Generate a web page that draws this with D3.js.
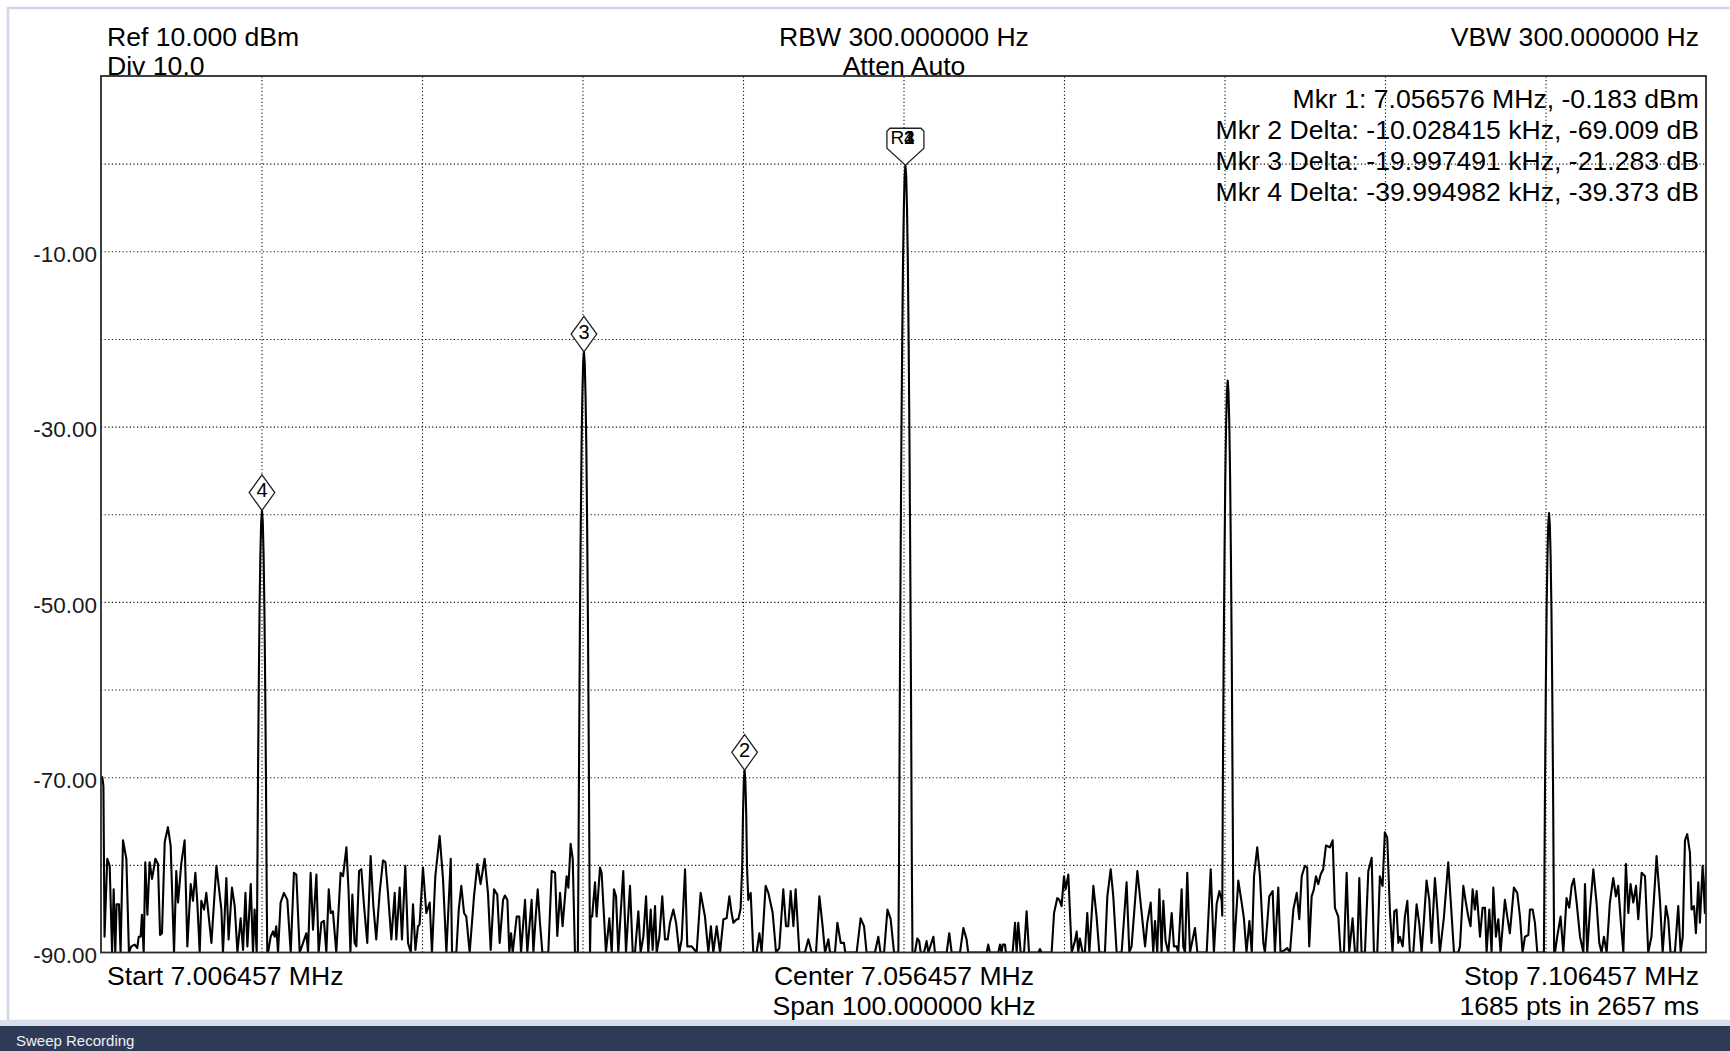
<!DOCTYPE html>
<html>
<head>
<meta charset="utf-8">
<script src="https://cdn.jsdelivr.net/npm/d3@7"></script>
<style>
  body { margin: 0; background: #fff; }
  svg text { font-family: "Liberation Sans", Arial, sans-serif; fill: #000; }
</style>
</head>
<body>
<div id="chart"></div>
<script>
// Spectrum analyser sweep, 7.006457 - 7.106457 MHz

// frequency is kHz above the start frequency, level is dBm
var trace = [
  [0,-70.3],[0.08,-70],[0.15,-71],[0.22,-88.2],[0.39,-79.3],[0.54,-80.1],[0.69,-90],[0.79,-82.8],[0.89,-90],[0.97,-84.5],
  [1.12,-84.5],[1.22,-90],[1.37,-77.2],[1.58,-79.3],[1.74,-90],[1.89,-89.3],[2.1,-89.1],[2.26,-89.5],[2.35,-88.2],[2.47,-88.2],
  [2.55,-85.7],[2.66,-90],[2.76,-79.7],[2.89,-85.7],[3.03,-79.7],[3.18,-81.6],[3.39,-79.3],[3.55,-79.9],[3.68,-88],[3.8,-87.8],
  [3.97,-77.4],[4.17,-75.7],[4.34,-77.8],[4.55,-90],[4.69,-80.7],[4.8,-84.3],[5.0,-79.9],[5.21,-77.2],[5.38,-89.3],[5.59,-82.2],
  [5.73,-84.1],[5.88,-80.9],[6.0,-84.3],[6.15,-90],[6.25,-84.1],[6.42,-85.1],[6.56,-83.2],[6.88,-88.9],[7.19,-80.1],[7.5,-85.1],
  [7.6,-90],[7.81,-81.5],[7.95,-88.5],[8.16,-82.6],[8.33,-84.7],[8.43,-87.8],[8.5,-90],[8.7,-86.1],[8.85,-89.7],[9.0,-83.2],
  [9.12,-89.3],[9.33,-82.2],[9.47,-90],[9.57,-85.1],
  // marker 4 carrier
  [9.7,-90],[9.73,-84.6],[9.78,-70.6],[9.83,-59.6],[9.88,-50.6],[9.93,-44.6],[9.98,-40.9],[10.03,-39.56],[10.08,-40.9],
  [10.13,-44.6],[10.18,-50.6],[10.23,-59.6],[10.28,-70.6],[10.33,-84.6],[10.36,-90],
  [10.41,-90],[10.57,-88.2],[10.72,-87.6],[10.82,-88.2],[10.92,-87],[11.03,-90],[11.19,-84.3],[11.4,-83.2],[11.61,-84],[11.82,-90],
  [12.02,-80.9],[12.17,-81.1],[12.38,-90],[12.59,-88.9],[12.79,-87.8],[12.9,-90],[13.06,-80.9],[13.21,-87.4],[13.42,-81.1],[13.56,-90],
  [13.73,-86.6],[13.89,-86.4],[14.04,-90],[14.19,-82.8],[14.31,-85.5],[14.45,-85.3],[14.66,-90],[14.93,-80.9],[15.08,-81.3],[15.29,-78],
  [15.43,-83.2],[15.54,-90],[15.66,-83.4],[15.8,-88.9],[15.91,-89.3],[16.08,-80.7],[16.22,-80.5],[16.39,-84.7],[16.59,-88.9],[16.8,-79],
  [16.97,-84.7],[17.15,-88.5],[17.36,-83.2],[17.57,-79.5],[17.72,-79.7],[17.88,-83.2],[18.09,-88.5],[18.3,-83.2],[18.4,-88.5],[18.61,-82.6],
  [18.75,-88.5],[18.96,-80.1],[19.13,-88.9],[19.3,-90],[19.44,-84.5],[19.59,-89.7],[19.75,-87],[19.85,-86.8],[20.06,-80.3],[20.27,-85.5],
  [20.48,-84.3],[20.62,-90],[20.83,-81.3],[21.1,-76.7],[21.31,-81.6],[21.52,-90],[21.79,-79.3],[21.87,-90],[22.14,-90],[22.29,-85.1],
  [22.45,-82.4],[22.62,-85.5],[22.76,-85.9],[22.97,-90],[23.24,-83.6],[23.45,-79.9],[23.65,-82.2],[23.9,-79.3],[24.11,-83.2],[24.28,-89.7],
  [24.49,-82.8],[24.69,-83.4],[24.84,-88.9],[25.05,-84],[25.17,-83.5],[25.32,-84],[25.44,-90],[25.55,-87.8],[25.65,-90],[25.9,-85.9],
  [26.06,-85.9],[26.17,-90],[26.42,-84],[26.56,-90],[26.83,-84],[26.94,-90],[27.1,-85.5],[27.21,-82.8],[27.35,-86.6],[27.5,-90],
  [27.87,-90],[28.08,-80.7],[28.29,-80.9],[28.43,-88.1],[28.6,-83.2],[28.76,-87],[29.01,-81.3],[29.12,-82.6],[29.26,-77.6],[29.39,-79.3],
  [29.53,-90],
  // marker 3 carrier
  [29.71,-90],[29.74,-82.5],[29.79,-66.5],[29.84,-52.5],[29.89,-41.5],[29.94,-32.5],[29.99,-26.5],[30.04,-22.8],[30.09,-21.47],
  [30.14,-22.8],[30.19,-26.5],[30.24,-32.5],[30.29,-41.5],[30.34,-52.5],[30.39,-66.5],[30.44,-82.5],[30.47,-90],
  [30.51,-85.9],[30.6,-85.9],[30.78,-82],[30.88,-85.9],[31.09,-80.3],[31.19,-80.9],[31.34,-85.9],[31.46,-90],[31.67,-86.1],[31.82,-90],
  [31.96,-82.8],[32.09,-83.6],[32.23,-90],[32.54,-80.7],[32.71,-90],[32.96,-82.4],[33.13,-90],[33.27,-90],[33.48,-85.3],[33.62,-90],
  [33.79,-88.2],[33.96,-83.6],[34.1,-90],[34.25,-85.1],[34.37,-89.7],[34.52,-84.7],[34.62,-90],[34.79,-88.2],[34.97,-83.6],[35.14,-88.5],
  [35.31,-88.5],[35.45,-86.6],[35.66,-85.1],[35.83,-86.6],[36.03,-90],[36.18,-88.5],[36.39,-80.5],[36.53,-89.3],[36.8,-89.3],[37.11,-90],
  [37.36,-83.2],[37.63,-85.9],[37.84,-90],[38.0,-87],[38.15,-90],[38.36,-87],[38.57,-90],[38.78,-86.2],[38.98,-86.1],[39.15,-83.6],
  [39.29,-85.5],[39.4,-86.6],[39.61,-86.2],[39.71,-86.2],
  // marker 2 carrier
  [39.85,-85],[39.95,-80.2],[40.0,-74.2],[40.05,-70.5],[40.1,-69.19],[40.15,-70.5],[40.2,-74.2],[40.25,-80.2],[40.33,-84],
  [40.48,-83.2],[40.64,-90],[40.85,-90],[41.02,-87.8],[41.16,-90],[41.41,-82.4],[41.58,-83.2],[41.85,-85.5],[42.06,-90],[42.26,-89.5],
  [42.51,-82.8],[42.68,-87],[42.82,-87],[42.97,-83],[43.14,-87],[43.28,-82.8],[43.51,-90],[43.86,-90],[44.07,-88.5],[44.28,-90],
  [44.55,-90],[44.76,-83.6],[44.96,-87],[45.11,-90],[45.32,-88.5],[45.42,-90],[45.73,-90],[45.88,-86.6],[46.09,-88.9],[46.29,-88.9],
  [46.37,-90],[47.08,-90],[47.33,-86.1],[47.54,-87],[47.7,-90],[48.22,-90],[48.43,-88.2],[48.57,-90],[48.79,-90],[49.0,-85.1],
  [49.2,-86.2],[49.41,-90],
  // marker 1 / reference carrier
  [49.68,-90],[49.72,-80.2],[49.77,-61.2],[49.82,-45.2],[49.87,-31.2],[49.92,-20.2],[49.97,-11.2],[50.02,-5.2],[50.07,-1.5],
  [50.12,-0.18],[50.17,-1.5],[50.22,-5.2],[50.27,-11.2],[50.32,-20.2],[50.37,-31.2],[50.42,-45.2],[50.47,-61.2],[50.52,-80.2],[50.56,-90],
  [50.71,-90],[50.86,-88.4],[50.98,-88.7],[51.07,-90],[51.28,-90],[51.44,-88.7],[51.55,-90],[51.86,-88.2],[51.96,-90],[52.69,-90],
  [52.85,-87.8],[53.0,-90],[53.52,-90],[53.73,-87.2],[53.93,-88.5],[54.03,-90],[55.18,-90],[55.28,-89.1],[55.38,-90],[55.91,-90],
  [56.01,-89.1],[56.11,-90],[56.18,-89.1],[56.32,-89.1],[56.38,-90],[56.8,-90],[56.95,-86.6],[57.05,-90],[57.15,-86.6],[57.3,-90],
  [57.51,-90],[57.67,-85.3],[57.82,-90],[58.4,-90],[58.5,-89.6],[58.6,-90],[59.23,-90],[59.38,-85.5],[59.58,-83.8],[59.71,-84],
  [59.85,-84.7],[60.0,-81.3],[60.1,-82.8],[60.27,-81.1],[60.48,-90],[60.68,-88.7],[60.79,-87.6],[60.89,-90],[60.99,-88.4],[61.16,-90],
  [61.3,-90],[61.45,-85.5],[61.58,-90],[61.83,-82.4],[62.03,-85.9],[62.2,-90],[62.55,-90],[62.7,-83.6],[62.91,-80.5],[63.07,-83.6],
  [63.28,-90],[63.59,-90],[63.9,-82],[64.07,-90],[64.21,-89.3],[64.57,-80.7],[64.84,-85.5],[65.05,-89.3],[65.19,-86.6],[65.4,-84.3],
  [65.56,-90],[65.67,-86.4],[65.81,-90],[65.94,-82.8],[66.08,-90],[66.19,-84.1],[66.33,-88.7],[66.5,-90],[66.71,-85.5],[66.85,-89.3],
  [67.02,-89.3],[67.12,-90],[67.33,-82.8],[67.43,-89.3],[67.54,-90],[67.68,-80.9],[67.85,-90],[68.16,-87.2],[68.31,-90],[68.89,-90],
  [69.14,-80.5],[69.34,-90],[69.51,-84.5],[69.68,-83],[69.82,-84],
  // +20 kHz product
  [69.86,-85.8],[69.9,-69.8],[69.95,-55.8],[70.0,-44.8],[70.05,-35.8],[70.1,-29.8],[70.15,-26.1],[70.2,-24.75],[70.25,-26.1],
  [70.3,-29.8],[70.35,-35.8],[70.4,-44.8],[70.45,-55.8],[70.5,-69.8],[70.55,-85.8],[70.58,-90],
  [70.86,-81.8],[71.07,-84.3],[71.21,-86.1],[71.37,-90],[71.55,-86.4],[71.7,-90],[71.84,-81.3],[72.04,-78],[72.21,-81.3],[72.42,-88.9],
  [72.52,-90],[72.79,-83.6],[73.0,-83],[73.14,-90],[73.35,-82.6],[73.49,-90],[73.77,-89.7],[73.91,-89.5],[74.08,-90],[74.29,-85.1],
  [74.5,-83.2],[74.66,-86.2],[74.81,-81.3],[75.01,-80.1],[75.15,-80.3],[75.28,-89.3],[75.43,-83.6],[75.57,-82.8],[75.7,-81.3],[75.84,-82.2],
  [75.99,-81.1],[76.15,-80.5],[76.32,-77.8],[76.57,-78],[76.74,-77.2],[76.88,-84.9],[77.09,-85.9],[77.23,-90],[77.44,-90],[77.61,-80.9],
  [77.77,-90],[77.98,-86.1],[78.13,-90],[78.27,-90],[78.4,-81.5],[78.54,-90],[78.75,-90],[78.96,-80.7],[79.17,-79.2],[79.31,-90],
  [79.52,-90],[79.68,-81.3],[79.85,-82.4],[79.99,-76.3],[80.14,-76.9],[80.31,-85.5],[80.47,-90],[80.58,-85.3],[80.72,-85.1],[80.83,-88.9],
  [80.93,-88.2],[81.1,-89.3],[81.24,-85.9],[81.39,-84.1],[81.55,-90],[81.76,-90],[81.97,-84.5],[82.14,-86.8],[82.28,-90],[82.43,-86.2],
  [82.59,-81.8],[82.76,-84],[82.9,-88.9],[83.11,-81.5],[83.26,-85.1],[83.42,-90],[83.67,-86],[83.94,-79.7],[84.09,-84],[84.3,-90],
  [84.57,-90],[84.67,-89.3],[84.88,-82.4],[85.04,-84.3],[85.19,-85.9],[85.33,-87],[85.46,-82.8],[85.6,-85.1],[85.71,-83],[85.92,-88.2],
  [86.08,-84.9],[86.23,-84.9],[86.33,-90],[86.5,-85.1],[86.64,-90],[86.75,-82.6],[86.91,-88.2],[87.06,-86.2],[87.2,-90],[87.47,-84],
  [87.62,-85.9],[87.78,-87.8],[88.03,-82.6],[88.24,-83.2],[88.41,-85.9],[88.57,-90],[88.72,-88.2],[88.93,-88],[89.03,-85.1],[89.2,-85.1],
  [89.34,-86.6],[89.49,-90],
  // +40 kHz product
  [89.9,-90],[89.92,-84.9],[89.97,-70.9],[90.02,-59.9],[90.07,-50.9],[90.12,-44.9],[90.17,-41.2],[90.22,-39.86],[90.27,-41.2],
  [90.32,-44.9],[90.37,-50.9],[90.42,-59.9],[90.47,-70.9],[90.52,-84.9],[90.54,-90],
  [90.59,-90],[90.73,-88.2],[90.94,-85.9],[91.11,-90],[91.31,-83.8],[91.48,-84.9],[91.63,-82.4],[91.77,-81.6],[91.94,-84.3],[92.15,-88.2],
  [92.36,-90],[92.46,-82.2],[92.6,-90],[92.77,-85.1],[92.98,-80.5],[93.18,-84.3],[93.35,-88.9],[93.49,-90],[93.64,-88.2],[93.81,-90],
  [94.01,-84.3],[94.22,-81.5],[94.39,-83.6],[94.53,-82.4],[94.68,-86.2],[94.85,-90],[95.01,-79.9],[95.16,-85.5],[95.3,-82.2],[95.47,-84.3],
  [95.64,-82.4],[95.78,-86.2],[95.99,-80.9],[96.2,-81.3],[96.4,-90],[96.6,-88.2],[96.76,-83.8],[96.92,-79],[97.13,-84],[97.3,-90],
  [97.5,-84.7],[97.65,-86.2],[97.79,-90],[98.06,-90],[98.27,-84.7],[98.42,-90],[98.55,-88.2],[98.69,-77.2],[98.83,-76.5],[99.0,-78.6],
  [99.1,-85.1],[99.25,-84.7],[99.37,-87.8],[99.52,-82],[99.62,-86.6],[99.79,-80.1],[99.93,-85.5],[100,-80]
];

// delta markers (diamonds) and the reference marker
var deltaMarkers = [
  { label: "4", khz: 10.03, dbm: -39.56 },
  { label: "3", khz: 30.09, dbm: -21.47 },
  { label: "2", khz: 40.1, dbm: -69.19 }
];
var refMarker = { khz: 50.12, dbm: -0.18, labels: ["1", "2", "3", "4"] };

var yTickValues = [-10, -30, -50, -70, -90];
var yGridValues = [0, -10, -20, -30, -40, -50, -60, -70, -80];
var xGridValues = [10, 20, 30, 40, 50, 60, 70, 80, 90];

var headerLeft = ["Ref 10.000 dBm", "Div 10.0"];
var headerMid = ["RBW 300.000000 Hz", "Atten Auto"];
var headerRight = ["VBW 300.000000 Hz"];
var readouts = [
  "Mkr 1: 7.056576 MHz, -0.183 dBm",
  "Mkr 2 Delta: -10.028415 kHz, -69.009 dB",
  "Mkr 3 Delta: -19.997491 kHz, -21.283 dB",
  "Mkr 4 Delta: -39.994982 kHz, -39.373 dB"
];
var footerLeft = ["Start 7.006457 MHz"];
var footerMid = ["Center 7.056457 MHz", "Span 100.000000 kHz"];
var footerRight = ["Stop 7.106457 MHz", "1685 pts in 2657 ms"];

var width = 1730;
var height = 1051;
var plot = { left: 101, right: 1706, top: 76, bottom: 952.5 };

var svg = d3.select("#chart")
  .append("svg")
  .attr("width", width)
  .attr("height", height);

// window frame
svg.append("rect").attr("width", width).attr("height", height).attr("fill", "#fff");
svg.append("rect")
  .attr("x", 8).attr("y", 8)
  .attr("width", width).attr("height", 1013)
  .attr("fill", "none")
  .attr("stroke", "#d0d8e7")
  .attr("stroke-width", 2.5);
svg.append("rect").attr("x", 0).attr("y", 1020).attr("width", width).attr("height", 7).attr("fill", "#d9dfea");
svg.append("rect").attr("x", 0).attr("y", 1026).attr("width", width).attr("height", 25).attr("fill", "#2f3b56");
svg.append("text")
  .attr("x", 16).attr("y", 1046)
  .style("font-size", "15px")
  .style("fill", "#eef1f6")
  .text("Sweep Recording");

var x = d3.scaleLinear().domain([0, 100]).range([plot.left, plot.right]);
var y = d3.scaleLinear().domain([-90, 10]).range([plot.bottom, plot.top]);

// dotted grid
var gx = svg.append("g")
  .attr("transform", "translate(0," + plot.bottom + ")")
  .call(d3.axisBottom(x).tickValues(xGridValues).tickSize(-(plot.bottom - plot.top)).tickFormat(""));
var gy = svg.append("g")
  .attr("transform", "translate(" + plot.left + ",0)")
  .call(d3.axisLeft(y).tickValues(yGridValues).tickSize(-(plot.right - plot.left)).tickFormat(""));
[gx, gy].forEach(function(g) {
  g.select(".domain").remove();
  g.selectAll("line")
    .attr("stroke", "#111")
    .attr("stroke-width", 1.1)
    .attr("stroke-dasharray", "1.2,2.4");
});

// level labels
var yLabels = svg.append("g")
  .attr("transform", "translate(" + plot.left + ",0)")
  .call(d3.axisLeft(y).tickValues(yTickValues).tickSize(0).tickPadding(4)
    .tickFormat(function(d) { return d.toFixed(2); }));
yLabels.select(".domain").remove();
yLabels.selectAll("text")
  .attr("dy", "0.46em")
  .style("font-size", "22.5px")
  .style("font-family", "'Liberation Sans', Arial, sans-serif")
  .style("fill", "#1a1a1a");

// text block
function textRows(rows, xPos, yPos, anchor, step) {
  rows.forEach(function(t, i) {
    svg.append("text")
      .attr("x", xPos)
      .attr("y", yPos + i * step)
      .attr("text-anchor", anchor)
      .style("font-size", "26.6px")
      .text(t);
  });
}
textRows(headerLeft, 107, 46, "start", 28.5);
textRows(headerMid, 904, 46, "middle", 28.5);
textRows(headerRight, 1699, 46, "end", 28.5);
textRows(readouts, 1699, 108, "end", 31);
textRows(footerLeft, 107, 985, "start", 30);
textRows(footerMid, 904, 985, "middle", 30);
textRows(footerRight, 1699, 985, "end", 30);

// trace
svg.append("clipPath").attr("id", "plotClip")
  .append("rect")
  .attr("x", plot.left).attr("y", plot.top)
  .attr("width", plot.right - plot.left).attr("height", plot.bottom - plot.top);

var line = d3.line()
  .x(function(d) { return x(d[0]); })
  .y(function(d) { return y(d[1]); });

svg.append("path")
  .datum(trace)
  .attr("clip-path", "url(#plotClip)")
  .attr("d", line)
  .attr("fill", "none")
  .attr("stroke", "#000")
  .attr("stroke-width", 2.1)
  .attr("stroke-linejoin", "round");

// plot frame
svg.append("rect")
  .attr("x", plot.left).attr("y", plot.top)
  .attr("width", plot.right - plot.left).attr("height", plot.bottom - plot.top)
  .attr("fill", "none")
  .attr("stroke", "#2b2b2b")
  .attr("stroke-width", 1.8);

// diamond markers
var dm = svg.selectAll("g.dmark")
  .data(deltaMarkers)
  .enter()
  .append("g")
  .attr("class", "dmark")
  .attr("transform", function(d) { return "translate(" + x(d.khz) + "," + y(d.dbm) + ")"; });
dm.append("path")
  .attr("d", "M0,0 L-12.8,-17.8 L0,-35.5 L12.8,-17.8 Z")
  .attr("fill", "#fff")
  .attr("stroke", "#222")
  .attr("stroke-width", 1.3);
dm.append("text")
  .attr("y", -13)
  .attr("text-anchor", "middle")
  .style("font-size", "20px")
  .text(function(d) { return d.label; });

// reference marker: R with marker numbers stacked on top of each other
var rm = svg.append("g")
  .attr("transform", "translate(" + x(refMarker.khz) + "," + y(refMarker.dbm) + ")");
rm.append("path")
  .attr("d", "M-15.5,-37 L15.5,-37 L18.5,-34 L18.5,-17 L0,0 L-18.5,-17 L-18.5,-34 Z")
  .attr("fill", "#fff")
  .attr("stroke", "#222")
  .attr("stroke-width", 1.3);
rm.append("text")
  .attr("x", -15).attr("y", -21.5)
  .style("font-size", "19px")
  .text("R");
refMarker.labels.forEach(function(t) {
  rm.append("text")
    .attr("x", -1.5).attr("y", -21.5)
    .style("font-size", "19px")
    .text(t);
});
</script>
</body>
</html>
